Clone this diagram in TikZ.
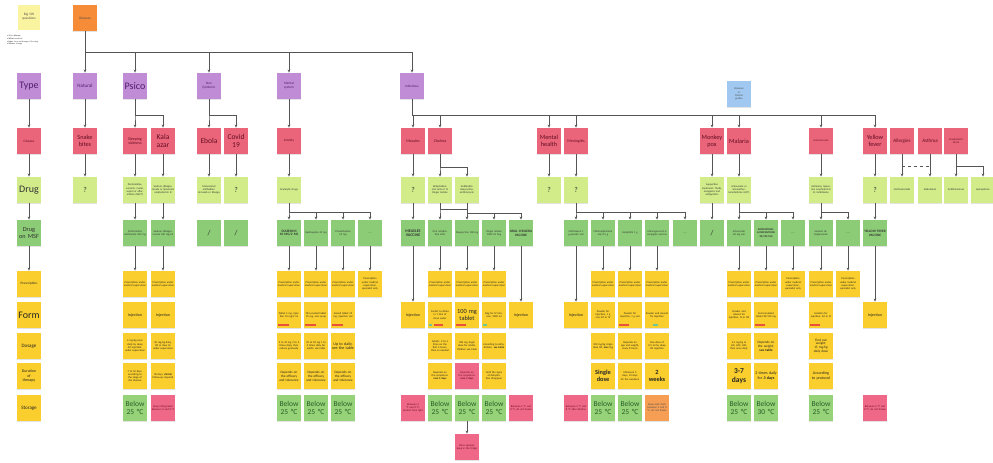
\documentclass[tikz,border=0pt]{standalone}
\usepackage{fontspec}
\setmainfont{Carlito}
\usetikzlibrary{arrows.meta,shadows}

\definecolor{cPurple}{RGB}{192,140,214}
\definecolor{cPurpleTxt}{RGB}{80,30,110}
\definecolor{cRed}{RGB}{234,100,122}
\definecolor{cRedTxt}{RGB}{100,15,35}
\definecolor{cLime}{RGB}{210,236,138}
\definecolor{cGreen}{RGB}{140,204,118}
\definecolor{cYellow}{RGB}{250,206,44}
\definecolor{cStore}{RGB}{150,210,120}
\definecolor{cGreenTxt}{RGB}{40,95,40}
\definecolor{cPink}{RGB}{240,104,136}
\definecolor{cOrange}{RGB}{246,140,56}
\definecolor{cOrangeLt}{RGB}{245,158,84}
\definecolor{cBlue}{RGB}{160,200,240}
\definecolor{cPale}{RGB}{250,244,160}
\definecolor{cLine}{RGB}{85,85,85}
\definecolor{cBarRed}{RGB}{235,80,60}
\definecolor{cBarGreen}{RGB}{110,200,150}

% connectors
\newcommand\dn[2]{\draw[arr] (#1.south) -- (#2.north);}
\newcommand\fork[3]{\draw[arr] (#1.south) |- (#2.north |- 0,#3) -- (#2.north);}
% coloured marker strip at the foot of a note
\newcommand\stripe[4]{\fill[#2] ([xshift=#3,yshift=2.4pt]#1.south west) rectangle ++(#4,1.6pt);}

\begin{document}
\begin{tikzpicture}[x=1pt,y=-1pt,
  sn/.style={rectangle, minimum width=24.5pt, minimum height=26.5pt, inner sep=0.4pt,
     align=center, text width=22.5pt,
     drop shadow={shadow xshift=0pt,shadow yshift=-0.8pt,opacity=0.22}},
  purp/.style={fill=cPurple,text=cPurpleTxt},
  dis/.style={fill=cRed,text=cRedTxt},
  lime/.style={fill=cLime,text=black!80},
  msf/.style={fill=cGreen,text=black!80},
  yel/.style={fill=cYellow,text=black!85},
  stg/.style={fill=cStore,text=cGreenTxt},
  pnk/.style={fill=cPink,text=cRedTxt},
  org/.style={fill=cOrangeLt,text=black!70},
  fA/.style={font=\fontsize{10}{11}\selectfont},
  fB/.style={font=\fontsize{7.5}{8.3}\selectfont},
  fM/.style={font=\fontsize{6.3}{7}\selectfont},
  fC/.style={font=\fontsize{5}{5.6}\selectfont},
  fD/.style={font=\fontsize{4}{4.6}\selectfont},
  fE/.style={font=\fontsize{3.4}{3.9}\selectfont},
  fF/.style={font=\fontsize{2.7}{3.2}\selectfont},
  ln/.style={draw=cLine, line width=0.55pt},
  arr/.style={ln, -{Stealth[length=3pt,width=2.8pt]}},
  presc/.style={sn,yel,fF},
  coolnote/.style={sn,stg,fB}
]
\useasboundingbox (0,0) rectangle (993,463);
\fill[white] (0,0) rectangle (993,463);

% ---------- header ----------
\node[sn,fill=cPale,text=black!70,minimum width=22pt,minimum height=25pt,text width=20pt,fE] (big) at (29,17) {Big 5W\\questions};
\node[anchor=north west,inner sep=0,align=left,text=black!70,font=\fontsize{2.1}{2.7}\selectfont] (key) at (7,35)
  {• Who: \textbf{disease}\\ • \textbf{What}: medicine\\ • \textbf{How}: form and dosage of the drug\\ • \textbf{Where}: storage};
\node[sn,fill=cOrange,text=black!70,fE] (root) at (85,18) {Diseases};
\node[sn,fill=cBlue,text=black!70,fF] (guide) at (739,94) {Diseases\\in\\Clinical\\guides};

% ---------- type row ----------
\node[sn,purp,fA] (t29) at (29,86) {Type};
\node[sn,purp,fC] (t85) at (85,86) {Natural};
\node[sn,purp,fA] (t135) at (135,86) {Psico};
\node[sn,purp,fE] (t209) at (209,86) {Non\\Epidemic};
\node[sn,purp,fE] (t289) at (289,86) {Mental\\system};
\node[sn,purp,fE] (t412) at (412,86) {Infectious};

% ---------- disease row ----------
\node[sn,dis,fE] (d29) at (29,141) {Disease};
\node[sn,dis,fM] (d85) at (85,141) {Snake\\bites};
\node[sn,dis,fD] (d135) at (135,141) {Sleeping\\sickness};
\node[sn,dis,fB] (d163) at (163,141) {Kala\\azar};
\node[sn,dis,fB] (d209) at (209,141) {Ebola};
\node[sn,dis,fB] (d236) at (236,141) {Covid\\19};
\node[sn,dis,fE] (d289) at (289,141) {Anxiety};
\node[sn,dis,fD] (d413) at (413,141) {Measles};
\node[sn,dis,fD] (d440) at (440,141) {Cholera};
\node[sn,dis,fM] (d549) at (549,141) {Mental\\health};
\node[sn,dis,fD] (d576) at (576,141) {Meningitis};
\node[sn,dis,fM] (d712) at (712,141) {Monkey\\pox};
\node[sn,dis,fM] (d739) at (739,141) {Malaria};
\node[sn,dis,fF] (d821) at (821,141) {Leishmaniasis};
\node[sn,dis,fM] (d875) at (875,141) {Yellow\\fever};
\node[sn,dis,fC] (d902) at (902,141) {Allergies};
\node[sn,dis,fC] (d930) at (930,141) {Asthma};
\node[sn,dis,fF] (d956) at (956,141) {Anaphylactic\\shock};

% ---------- drug row ----------
\node[sn,lime,fA] (g29) at (29,190) {Drug};
\node[sn,lime,fB] (g85) at (85,190) {?};
\node[sn,lime,fF] (g135) at (135,190) {Pentamidine, suramin, melarsoprol or eflornithine (NECT)};
\node[sn,lime,fF] (g163) at (163,190) {Sodium stibogluconate or liposomal amphotericin B};
\node[sn,lime,fF] (g209) at (209,190) {Monoclonal antibodies: Inmazeb or Ebanga};
\node[sn,lime,fB] (g236) at (236,190) {?};
\node[sn,lime,fF] (g289) at (289,190) {Anxiolytic drugs};
\node[sn,lime,fB] (g413) at (413,190) {?};
\node[sn,lime,fF] (g440) at (440,190) {Rehydration: oral salts or IV Ringer lactate};
\node[sn,lime,fF] (g467) at (467,190) {Antibiotics: doxycycline, azithromycin};
\node[sn,lime,fB] (g549) at (549,190) {?};
\node[sn,lime,fB] (g576) at (576,190) {?};
\node[sn,lime,fF] (g712) at (712,190) {Supportive treatment: fluids, analgesics and antipyretics};
\node[sn,lime,fF] (g739) at (739,190) {Artesunate or artemether-lumefantrine (ACT)};
\node[sn,lime,fF] (g821) at (821,190) {Antimony, liposomal amphotericin B, miltefosine};
\node[sn,lime,fB] (g875) at (875,190) {?};
\node[sn,lime,fF] (g902) at (902,190) {Corticosteroids};
\node[sn,lime,fF] (g930) at (930,190) {Salbutamol};
\node[sn,lime,fF] (g956) at (956,190) {Antihistamines};
\node[sn,lime,fF] (g983) at (983,190) {Epinephrine};

% ---------- drug on MSF row ----------
\node[sn,msf,fM] (m29) at (29,233) {Drug\\on MSF};
\node[sn,msf,fF] (m135) at (135,233) {Pentamidine isethionate 300 mg};
\node[sn,msf,fF] (m163) at (163,233) {Sodium stibogluconate 100 mg/ml};
\node[sn,msf,fB] (m209) at (209,233) {/};
\node[sn,msf,fB] (m236) at (236,233) {/};
\node[sn,msf,fE] (m289) at (289,233) {\textbf{DIAZEPAM 10 MG/2 ML}};
\node[sn,msf,fF] (m316) at (316,233) {Hydroxyzine 25 mg};
\node[sn,msf,fF] (m343) at (343,233) {Promethazine 25 mg};
\node[sn,msf,fF] (m370) at (370,233) {......};
\node[sn,msf,fD] (m413) at (413,233) {\textbf{MEASLES VACCINE}};
\node[sn,msf,fF] (m440) at (440,233) {Oral rehydration salts};
\node[sn,msf,fF] (m467) at (467,233) {Doxycycline 100 mg};
\node[sn,msf,fF] (m494) at (494,233) {Ringer lactate 1000 ml bag};
\node[sn,msf,fE] (m521) at (521,233) {\textbf{ORAL CHOLERA VACCINE}};
\node[sn,msf,fF] (m576) at (576,233) {Ceftriaxone 1 g powder vial};
\node[sn,msf,fF] (m603) at (603,233) {Chloramphenicol oily 0.5 g};
\node[sn,msf,fF] (m630) at (630,233) {Ampicillin 1 g};
\node[sn,msf,fF] (m657) at (657,233) {Meningococcal A conjugate vaccine};
\node[sn,msf,fF] (m685) at (685,233) {......};
\node[sn,msf,fB] (m712) at (712,233) {/};
\node[sn,msf,fF] (m739) at (739,233) {Artesunate 60 mg vial};
\node[sn,msf,fF] (m766) at (766,233) {\textbf{ARTEMETHER- LUMEFANTRINE 20/120 MG}};
\node[sn,msf,fF] (m793) at (793,233) {......};
\node[sn,msf,fF] (m821) at (821,233) {Sodium stibogluconate};
\node[sn,msf,fF] (m848) at (848,233) {......};
\node[sn,msf,fE] (m875) at (875,233) {\textbf{YELLOW FEVER VACCINE}};

% ---------- prescription row ----------
\node[sn,yel,fE] (p29) at (29,284) {Prescription};
\foreach \c in {135,163,289,316,343,440,467,494,603,630,657,739,766,821}
  \node[presc] (p\c) at (\c,284) {Prescription under medical supervision};
\node[presc] (p370) at (370,284) {Prescription under medical supervision, specialist only};
\node[presc] (p793) at (793,284) {Prescription under medical supervision, specialist only};
\node[presc] (p848) at (848,284) {Prescription under medical supervision, specialist only};

% ---------- form row ----------
\node[sn,yel,fA] (f29) at (29,315) {Form};
\node[sn,yel,fD] (f135) at (135,315) {Injection};
\node[sn,yel,fD] (f163) at (163,315) {Injection};
\node[sn,yel,fF] (f289) at (289,315) {Tablet 5 mg, injection 10 mg/2 ml};
\node[sn,yel,fF] (f316) at (316,315) {Film-coated tablet 25 mg, oral syrup};
\node[sn,yel,fF] (f343) at (343,315) {Scored tablet 25 mg, injection vial};
\node[sn,yel,fD] (f413) at (413,315) {Injection};
\node[sn,yel,fF] (f440) at (440,315) {Sachet to dilute in 1 litre of clean water};
\node[sn,yel,fM] (f467) at (467,315) {100 mg\\tablet};
\node[sn,yel,fF] (f494) at (494,315) {Bag for IV infusion, 1000 ml};
\node[sn,yel,fD] (f521) at (521,315) {Injection};
\node[sn,yel,fD] (f576) at (576,315) {Injection};
\node[sn,yel,fF] (f603) at (603,315) {Powder for injection, 1 g vial, IM or IV};
\node[sn,yel,fF] (f630) at (630,315) {Powder for injection, 1 g vial};
\node[sn,yel,fF] (f657) at (657,315) {Powder and solvent for injection};
\node[sn,yel,fF] (f739) at (739,315) {Powder and solvent for injection, IV or IM};
\node[sn,yel,fF] (f766) at (766,315) {Co-formulated tablet 20/120 mg};
\node[sn,yel,fF] (f821) at (821,315) {Solution for injection, IM or IV};
\node[sn,yel,fD] (f875) at (875,315) {Injection};
\stripe{f289}{cBarRed}{1.5pt}{11pt}
\stripe{f316}{cBarRed}{1.5pt}{11pt}
\stripe{f343}{cBarRed}{1.5pt}{11pt}
\stripe{f440}{cBarGreen}{1.5pt}{3pt}
\stripe{f440}{cBarRed}{6pt}{9pt}
\stripe{f467}{cBarRed}{1.5pt}{10pt}
\stripe{f494}{cBarGreen}{1.5pt}{4pt}
\stripe{f630}{cBarRed}{1.5pt}{10pt}
\stripe{f657}{cBarGreen}{8pt}{5pt}
\stripe{f766}{cBarRed}{1.5pt}{10pt}
\stripe{f821}{cBarRed}{1.5pt}{10pt}

% ---------- dosage row ----------
\node[sn,yel,fC] (s29) at (29,346) {Dosage};
\node[sn,yel,fF] (s135) at (135,346) {4 mg/kg once daily by deep IM injection, under supervision};
\node[sn,yel,fF] (s163) at (163,346) {20 mg/kg daily, IM or slow IV, under supervision};
\node[sn,yel,fF] (s289) at (289,346) {5 to 10 mg 2 to 3 times daily, then reduce gradually};
\node[sn,yel,fF] (s316) at (316,346) {25 to 50 mg 1 to 3 times daily for adults, see table};
\node[sn,yel,fD] (s343) at (343,346) {Up to daily, see the table};
\node[sn,yel,fF] (s440) at (440,346) {Adults: 2 to 4 litres on the first 4 hours, then as needed};
\node[sn,yel,fF] (s467) at (467,346) {300 mg single dose for adults, children see table};
\node[sn,yel,fF] (s494) at (494,346) {According to dehydration: \textbf{see table}};
\node[sn,yel,fF] (s603) at (603,346) {100 mg/kg single dose IM, \textbf{max 3 g}};
\node[sn,yel,fF] (s630) at (630,346) {Depends on age and weight, every 8 hours};
\node[sn,yel,fF] (s657) at (657,346) {One dose of 0.5 ml by deep IM injection};
\node[sn,yel,fF] (s739) at (739,346) {2.4 mg/kg at H0, H12, H24 then once daily};
\node[sn,yel,fE] (s766) at (766,346) {Depends on the weight, \textbf{see table}};
\node[sn,yel,fE] (s821) at (821,346) {Find out weight, 15 mg/kg daily dose};

% ---------- duration row ----------
\node[sn,yel,fD] (u29) at (29,376) {Duration\\of\\therapy};
\node[sn,yel,fF] (u135) at (135,376) {7 to 10 days, according to the stage of the disease};
\node[sn,yel,fF] (u163) at (163,376) {30 days, \textbf{clinical} follow-up required};
\node[sn,yel,fE] (u289) at (289,376) {Depends on the efficacy and tolerance};
\node[sn,yel,fE] (u316) at (316,376) {Depends on the efficacy and tolerance};
\node[sn,yel,fE] (u343) at (343,376) {Depends on the efficacy and tolerance};
\node[sn,yel,fF] (u440) at (440,376) {Depends on the symptoms: \textbf{max 5 days}};
\node[sn,pnk,fF] (u467) at (467,376) {Depends on the symptoms: \textbf{max 3 days}};
\node[sn,yel,fF] (u494) at (494,376) {Until the signs of dehydration disappear};
\node[sn,yel,fM] (u603) at (603,376) {\textbf{Single}\\\textbf{dose}};
\node[sn,yel,fF] (u630) at (630,376) {Minimum 5 days, 10 days for the newborn};
\node[sn,yel,fM] (u657) at (657,376) {\textbf{2}\\\textbf{weeks}};
\node[sn,yel,fB] (u739) at (739,376) {\textbf{3-7}\\\textbf{days}};
\node[sn,yel,fD] (u766) at (766,376) {2 times daily for \textbf{3 days}};
\node[sn,yel,fD] (u821) at (821,376) {According to protocol};

% ---------- storage row ----------
\node[sn,yel,fC] (r29) at (29,408) {Storage};
\foreach \c in {135,289,316,343,440,467,494,603,630,739,821}
  \node[coolnote] (r\c) at (\c,408) {Below\\25 °C};
\node[coolnote] (r766) at (766,408) {Below\\30 °C};
\node[sn,pnk,fF] (r163) at (163,408) {Keep refrigerated between 2 and 8 °C};
\node[sn,pnk,fF] (r413) at (413,408) {Between 2 °C and 8 °C, protect from light};
\node[sn,pnk,fF] (r521) at (521,408) {Between 2 °C and 8 °C, do not freeze};
\node[sn,pnk,fF] (r576) at (576,408) {Between 2 °C and 8 °C after dilution};
\node[sn,org,fF] (r657) at (657,408) {Keep cold chain between 2 and 8 °C, do not freeze};
\node[sn,pnk,fF] (r875) at (875,408) {Between 2 °C and 8 °C, do not freeze};
\node[sn,pnk,fF] (x467) at (467,447) {Once opened, keep in the fridge};

% ---------- connectors: top level ----------
\coordinate (hub) at (85,52);
\draw[ln] (root.south) -- (hub) -- (hub -| t412);
\draw[arr] (hub) -- (t85.north);
\foreach \n in {t135,t209,t289,t412} \draw[arr] (hub -| \n) -- (\n.north);

% legend column
\dn{t29}{d29} \dn{d29}{g29} \dn{g29}{m29} \dn{m29}{p29}

% natural / psico / non epidemic / mental system
\dn{t85}{d85} \dn{d85}{g85}
\fork{t135}{d135}{115} \fork{t135}{d163}{115}
\dn{d135}{g135} \dn{d163}{g163} \dn{g135}{m135} \dn{g163}{m163}
\dn{m135}{p135} \dn{m163}{p163}
\fork{t209}{d209}{115} \fork{t209}{d236}{115}
\dn{d209}{g209} \dn{d236}{g236}
\dn{t289}{d289} \dn{d289}{g289}
\foreach \n in {m289,m316,m343,m370} \fork{g289}{\n}{212};
\foreach \c in {289,316,343,370} \dn{m\c}{p\c};

% infectious
\foreach \n in {d413,d440,d549,d576,d712,d739,d821,d875} \fork{t412}{\n}{115};
\dn{d413}{g413} \dn{g413}{m413} \dn{m413}{f413}
\fork{d440}{g440}{167} \fork{d440}{g467}{167}
\fork{g440}{m440}{209} \fork{g440}{m467}{209}
\fork{g467}{m494}{213} \fork{g467}{m521}{213}
\foreach \c in {440,467,494} \dn{m\c}{p\c};
\dn{m521}{f521}
\dn{r467}{x467}
\dn{d549}{g549} \dn{d576}{g576}
\foreach \n in {m576,m603,m630,m657,m685} \fork{g576}{\n}{212};
\dn{m576}{f576}
\foreach \c in {603,630,657} \dn{m\c}{p\c};
\dn{d712}{g712} \dn{g712}{m712}
\dn{d739}{g739}
\foreach \n in {m739,m766,m793} \fork{g739}{\n}{212};
\foreach \c in {739,766,793} \dn{m\c}{p\c};
\dn{d821}{g821}
\foreach \n in {m821,m848} \fork{g821}{\n}{212};
\dn{m821}{p821} \dn{m848}{p848}
\dn{d875}{g875} \dn{g875}{m875} \dn{m875}{f875}

% allergies, asthma, anaphylaxis
\dn{d902}{g902} \dn{d930}{g930}
\draw[ln,dashed] (d902.south |- 0,166) -- (d930.south |- 0,166);
\fork{d956}{g956}{166} \fork{d956}{g983}{166}
\end{tikzpicture}
\end{document}
